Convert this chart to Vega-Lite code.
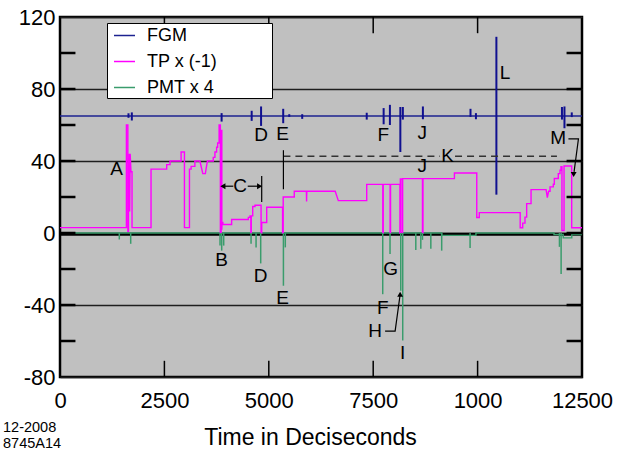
{
  "$schema": "https://vega.github.io/schema/vega-lite/v6.json",
  "width": 522,
  "height": 360,
  "autosize": {"type": "none"},
  "padding": {"left": 60, "top": 17, "right": 38, "bottom": 76},
  "config": {
    "font": "Liberation Sans",
    "view": {"fill": "#c0c0c0", "stroke": "#000", "strokeWidth": 2.5}
  },
  "title": {
    "text": ["12-2008", "8745A14"],
    "orient": "bottom",
    "anchor": "start",
    "frame": "group",
    "fontSize": 14.5,
    "fontWeight": "normal",
    "color": "#000",
    "lineHeight": 16,
    "dx": -57,
    "offset": -28
  },
  "datasets": {
    "series": [
      {"s": "FGM", "i": 0, "x": 0, "y": 65},
      {"s": "FGM", "i": 1, "x": 12500, "y": 65},
      {"s": "PMT x 4", "i": 0, "x": 0, "y": 0},
      {"s": "PMT x 4", "i": 1, "x": 9140, "y": 0},
      {"s": "PMT x 4", "i": 2, "x": 9140, "y": -1.3},
      {"s": "PMT x 4", "i": 3, "x": 9960, "y": -1.3},
      {"s": "PMT x 4", "i": 4, "x": 9960, "y": 0},
      {"s": "PMT x 4", "i": 5, "x": 11830, "y": 0},
      {"s": "PMT x 4", "i": 6, "x": 11830, "y": -0.8},
      {"s": "PMT x 4", "i": 7, "x": 12050, "y": -0.8},
      {"s": "PMT x 4", "i": 8, "x": 12050, "y": -2.7},
      {"s": "PMT x 4", "i": 9, "x": 12255, "y": -2.7},
      {"s": "PMT x 4", "i": 10, "x": 12255, "y": -0.8},
      {"s": "PMT x 4", "i": 11, "x": 12480, "y": -0.8},
      {"s": "PMT x 4", "i": 12, "x": 12480, "y": 0},
      {"s": "PMT x 4", "i": 13, "x": 12500, "y": 0},
      {"s": "TP x (-1)", "i": 1, "x": 0, "y": 3},
      {"s": "TP x (-1)", "i": 2, "x": 1590, "y": 3},
      {"s": "TP x (-1)", "i": 3, "x": 1590, "y": 60},
      {"s": "TP x (-1)", "i": 4, "x": 1625, "y": 60},
      {"s": "TP x (-1)", "i": 5, "x": 1625, "y": 1},
      {"s": "TP x (-1)", "i": 6, "x": 1640, "y": 1},
      {"s": "TP x (-1)", "i": 7, "x": 1640, "y": 25},
      {"s": "TP x (-1)", "i": 8, "x": 1650, "y": 17},
      {"s": "TP x (-1)", "i": 9, "x": 1660, "y": 44},
      {"s": "TP x (-1)", "i": 10, "x": 1668, "y": 12},
      {"s": "TP x (-1)", "i": 11, "x": 1680, "y": 44},
      {"s": "TP x (-1)", "i": 12, "x": 1700, "y": 34},
      {"s": "TP x (-1)", "i": 13, "x": 1725, "y": 34},
      {"s": "TP x (-1)", "i": 14, "x": 1725, "y": 3},
      {"s": "TP x (-1)", "i": 15, "x": 2180, "y": 3},
      {"s": "TP x (-1)", "i": 16, "x": 2180, "y": 35.5},
      {"s": "TP x (-1)", "i": 17, "x": 2555, "y": 35.5},
      {"s": "TP x (-1)", "i": 18, "x": 2555, "y": 38},
      {"s": "TP x (-1)", "i": 19, "x": 2635, "y": 38},
      {"s": "TP x (-1)", "i": 20, "x": 2635, "y": 40},
      {"s": "TP x (-1)", "i": 21, "x": 2900, "y": 40},
      {"s": "TP x (-1)", "i": 22, "x": 2900, "y": 45},
      {"s": "TP x (-1)", "i": 23, "x": 2980, "y": 45},
      {"s": "TP x (-1)", "i": 24, "x": 2980, "y": 3},
      {"s": "TP x (-1)", "i": 25, "x": 3100, "y": 3},
      {"s": "TP x (-1)", "i": 26, "x": 3100, "y": 35.5},
      {"s": "TP x (-1)", "i": 27, "x": 3140, "y": 35.5},
      {"s": "TP x (-1)", "i": 28, "x": 3140, "y": 37},
      {"s": "TP x (-1)", "i": 29, "x": 3230, "y": 37},
      {"s": "TP x (-1)", "i": 30, "x": 3230, "y": 40},
      {"s": "TP x (-1)", "i": 31, "x": 3350, "y": 40},
      {"s": "TP x (-1)", "i": 32, "x": 3420, "y": 33},
      {"s": "TP x (-1)", "i": 33, "x": 3480, "y": 33},
      {"s": "TP x (-1)", "i": 34, "x": 3530, "y": 40},
      {"s": "TP x (-1)", "i": 35, "x": 3670, "y": 40},
      {"s": "TP x (-1)", "i": 36, "x": 3670, "y": 42},
      {"s": "TP x (-1)", "i": 37, "x": 3710, "y": 42},
      {"s": "TP x (-1)", "i": 38, "x": 3710, "y": 45},
      {"s": "TP x (-1)", "i": 39, "x": 3750, "y": 45},
      {"s": "TP x (-1)", "i": 40, "x": 3750, "y": 47.6},
      {"s": "TP x (-1)", "i": 41, "x": 3775, "y": 47.6},
      {"s": "TP x (-1)", "i": 42, "x": 3775, "y": 50},
      {"s": "TP x (-1)", "i": 43, "x": 3810, "y": 50},
      {"s": "TP x (-1)", "i": 44, "x": 3810, "y": 60},
      {"s": "TP x (-1)", "i": 45, "x": 3840, "y": 60},
      {"s": "TP x (-1)", "i": 46, "x": 3840, "y": 0},
      {"s": "TP x (-1)", "i": 47, "x": 3860, "y": 0},
      {"s": "TP x (-1)", "i": 48, "x": 3860, "y": 57},
      {"s": "TP x (-1)", "i": 49, "x": 3875, "y": 57},
      {"s": "TP x (-1)", "i": 50, "x": 3875, "y": 1.8},
      {"s": "TP x (-1)", "i": 51, "x": 3880, "y": 5.8},
      {"s": "TP x (-1)", "i": 52, "x": 3900, "y": 5.8},
      {"s": "TP x (-1)", "i": 53, "x": 3900, "y": 4.7},
      {"s": "TP x (-1)", "i": 54, "x": 4110, "y": 4.7},
      {"s": "TP x (-1)", "i": 55, "x": 4110, "y": 7.5},
      {"s": "TP x (-1)", "i": 56, "x": 4510, "y": 7.5},
      {"s": "TP x (-1)", "i": 57, "x": 4510, "y": 8.7},
      {"s": "TP x (-1)", "i": 58, "x": 4550, "y": 8.7},
      {"s": "TP x (-1)", "i": 59, "x": 4550, "y": 9.5},
      {"s": "TP x (-1)", "i": 60, "x": 4570, "y": 9.5},
      {"s": "TP x (-1)", "i": 61, "x": 4570, "y": 0},
      {"s": "TP x (-1)", "i": 62, "x": 4580, "y": 0},
      {"s": "TP x (-1)", "i": 63, "x": 4580, "y": 9.5},
      {"s": "TP x (-1)", "i": 64, "x": 4615, "y": 9.5},
      {"s": "TP x (-1)", "i": 65, "x": 4615, "y": 14.7},
      {"s": "TP x (-1)", "i": 66, "x": 4670, "y": 14.7},
      {"s": "TP x (-1)", "i": 67, "x": 4670, "y": 15.4},
      {"s": "TP x (-1)", "i": 68, "x": 4815, "y": 15.4},
      {"s": "TP x (-1)", "i": 69, "x": 4815, "y": 0},
      {"s": "TP x (-1)", "i": 70, "x": 4830, "y": 0},
      {"s": "TP x (-1)", "i": 71, "x": 4830, "y": 5.8},
      {"s": "TP x (-1)", "i": 72, "x": 4950, "y": 5.8},
      {"s": "TP x (-1)", "i": 73, "x": 4950, "y": 14.3},
      {"s": "TP x (-1)", "i": 74, "x": 5330, "y": 14.3},
      {"s": "TP x (-1)", "i": 75, "x": 5330, "y": 0},
      {"s": "TP x (-1)", "i": 76, "x": 5345, "y": 0},
      {"s": "TP x (-1)", "i": 77, "x": 5345, "y": 20},
      {"s": "TP x (-1)", "i": 78, "x": 5610, "y": 20},
      {"s": "TP x (-1)", "i": 79, "x": 5610, "y": 23.2},
      {"s": "TP x (-1)", "i": 80, "x": 5900, "y": 23.2},
      {"s": "TP x (-1)", "i": 81, "x": 5905, "y": 17.5},
      {"s": "TP x (-1)", "i": 82, "x": 5910, "y": 23.2},
      {"s": "TP x (-1)", "i": 83, "x": 6590, "y": 23.2},
      {"s": "TP x (-1)", "i": 84, "x": 6665, "y": 18},
      {"s": "TP x (-1)", "i": 85, "x": 7345, "y": 18},
      {"s": "TP x (-1)", "i": 86, "x": 7345, "y": 27},
      {"s": "TP x (-1)", "i": 87, "x": 7730, "y": 27},
      {"s": "TP x (-1)", "i": 88, "x": 7730, "y": 0},
      {"s": "TP x (-1)", "i": 89, "x": 7740, "y": 0},
      {"s": "TP x (-1)", "i": 90, "x": 7740, "y": 27},
      {"s": "TP x (-1)", "i": 91, "x": 7905, "y": 27},
      {"s": "TP x (-1)", "i": 92, "x": 7905, "y": 0},
      {"s": "TP x (-1)", "i": 93, "x": 7915, "y": 0},
      {"s": "TP x (-1)", "i": 94, "x": 7915, "y": 27},
      {"s": "TP x (-1)", "i": 95, "x": 8140, "y": 27},
      {"s": "TP x (-1)", "i": 96, "x": 8140, "y": 0},
      {"s": "TP x (-1)", "i": 97, "x": 8150, "y": 0},
      {"s": "TP x (-1)", "i": 98, "x": 8150, "y": 30},
      {"s": "TP x (-1)", "i": 99, "x": 8190, "y": 30},
      {"s": "TP x (-1)", "i": 100, "x": 8190, "y": 0},
      {"s": "TP x (-1)", "i": 101, "x": 8205, "y": 0},
      {"s": "TP x (-1)", "i": 102, "x": 8205, "y": 30.2},
      {"s": "TP x (-1)", "i": 103, "x": 8680, "y": 30.2},
      {"s": "TP x (-1)", "i": 104, "x": 8680, "y": 0},
      {"s": "TP x (-1)", "i": 105, "x": 8692, "y": 0},
      {"s": "TP x (-1)", "i": 106, "x": 8692, "y": 30.2},
      {"s": "TP x (-1)", "i": 107, "x": 9445, "y": 30.2},
      {"s": "TP x (-1)", "i": 108, "x": 9445, "y": 33.3},
      {"s": "TP x (-1)", "i": 109, "x": 9980, "y": 33.3},
      {"s": "TP x (-1)", "i": 110, "x": 9980, "y": 8.6},
      {"s": "TP x (-1)", "i": 111, "x": 10040, "y": 8.6},
      {"s": "TP x (-1)", "i": 112, "x": 10040, "y": 11.3},
      {"s": "TP x (-1)", "i": 113, "x": 11020, "y": 11.3},
      {"s": "TP x (-1)", "i": 114, "x": 11020, "y": 2.9},
      {"s": "TP x (-1)", "i": 115, "x": 11080, "y": 2.9},
      {"s": "TP x (-1)", "i": 116, "x": 11080, "y": 5.5},
      {"s": "TP x (-1)", "i": 117, "x": 11135, "y": 5.5},
      {"s": "TP x (-1)", "i": 118, "x": 11135, "y": 8.8},
      {"s": "TP x (-1)", "i": 119, "x": 11175, "y": 8.8},
      {"s": "TP x (-1)", "i": 120, "x": 11175, "y": 16.3},
      {"s": "TP x (-1)", "i": 121, "x": 11280, "y": 16.3},
      {"s": "TP x (-1)", "i": 122, "x": 11280, "y": 24.1},
      {"s": "TP x (-1)", "i": 123, "x": 11640, "y": 24.1},
      {"s": "TP x (-1)", "i": 124, "x": 11670, "y": 19.7},
      {"s": "TP x (-1)", "i": 125, "x": 11700, "y": 23.2},
      {"s": "TP x (-1)", "i": 126, "x": 11735, "y": 23.2},
      {"s": "TP x (-1)", "i": 127, "x": 11735, "y": 25.6},
      {"s": "TP x (-1)", "i": 128, "x": 11813, "y": 25.6},
      {"s": "TP x (-1)", "i": 129, "x": 11813, "y": 27.1},
      {"s": "TP x (-1)", "i": 130, "x": 11837, "y": 27.1},
      {"s": "TP x (-1)", "i": 131, "x": 11837, "y": 30.3},
      {"s": "TP x (-1)", "i": 132, "x": 11932, "y": 30.3},
      {"s": "TP x (-1)", "i": 133, "x": 11932, "y": 33},
      {"s": "TP x (-1)", "i": 134, "x": 11973, "y": 33},
      {"s": "TP x (-1)", "i": 135, "x": 11973, "y": 34.9},
      {"s": "TP x (-1)", "i": 136, "x": 11997, "y": 34.9},
      {"s": "TP x (-1)", "i": 137, "x": 11997, "y": 36.8},
      {"s": "TP x (-1)", "i": 138, "x": 12020, "y": 36.8},
      {"s": "TP x (-1)", "i": 139, "x": 12020, "y": 1.4},
      {"s": "TP x (-1)", "i": 140, "x": 12070, "y": 1.4},
      {"s": "TP x (-1)", "i": 141, "x": 12070, "y": 37.2},
      {"s": "TP x (-1)", "i": 142, "x": 12253, "y": 37.2},
      {"s": "TP x (-1)", "i": 143, "x": 12253, "y": 2.9},
      {"s": "TP x (-1)", "i": 144, "x": 12500, "y": 2.9}
    ],
    "fgmSpikes": [
      {"x": 1640, "y": 66.5, "y2": 64},
      {"x": 1720, "y": 67, "y2": 62.5},
      {"x": 3870, "y": 66.6, "y2": 61.9},
      {"x": 4590, "y": 67.9, "y2": 62.3},
      {"x": 4815, "y": 70.3, "y2": 59.5},
      {"x": 5345, "y": 69, "y2": 61},
      {"x": 5490, "y": 66, "y2": 64.5},
      {"x": 5800, "y": 66, "y2": 63.4},
      {"x": 7345, "y": 66.8, "y2": 63},
      {"x": 7750, "y": 69.4, "y2": 60.4},
      {"x": 7900, "y": 71.2, "y2": 60},
      {"x": 8150, "y": 70, "y2": 45},
      {"x": 8210, "y": 70, "y2": 63},
      {"x": 8690, "y": 70.3, "y2": 63.2},
      {"x": 9830, "y": 69, "y2": 64.5},
      {"x": 9960, "y": 66.6, "y2": 63.2},
      {"x": 10450, "y": 109, "y2": 21.3},
      {"x": 12020, "y": 70, "y2": 63},
      {"x": 12080, "y": 70.3, "y2": 58.2},
      {"x": 12255, "y": 67, "y2": 64.4}
    ],
    "pmtSpikes": [
      {"x": 1420, "y": -3.6},
      {"x": 1693, "y": -6},
      {"x": 3832, "y": -7},
      {"x": 3872, "y": -9.8},
      {"x": 3920, "y": -7},
      {"x": 4575, "y": -6},
      {"x": 4695, "y": -8},
      {"x": 4806, "y": -16.9},
      {"x": 5350, "y": -29.3},
      {"x": 5395, "y": -8},
      {"x": 7728, "y": -34},
      {"x": 7903, "y": -11.6},
      {"x": 8160, "y": -32.1},
      {"x": 8207, "y": -59.7},
      {"x": 8520, "y": -9.4},
      {"x": 8640, "y": -8.8},
      {"x": 8680, "y": -3.8},
      {"x": 8880, "y": -8.8},
      {"x": 9140, "y": -9.8},
      {"x": 9820, "y": -8.3},
      {"x": 11960, "y": -7.7},
      {"x": 12000, "y": -22.8}
    ],
    "xticks": [{"x": 2500}, {"x": 5000}, {"x": 7500}, {"x": 10000}],
    "yticks": [{"y": -60}, {"y": -40}, {"y": -20}, {"y": 0}, {"y": 20}, {"y": 40}, {"y": 60}, {"y": 80}, {"y": 100}],
    "dashes": [
      {"x": 5350, "x2": 9100, "y": 42.7},
      {"x": 9460, "x2": 11900, "y": 42.7}
    ],
    "annoLines": [
      {"g": "C1", "i": 0, "x": 3880, "y": 26},
      {"g": "C1", "i": 1, "x": 4150, "y": 26},
      {"g": "C2", "i": 0, "x": 4495, "y": 26},
      {"g": "C2", "i": 1, "x": 4800, "y": 26},
      {"g": "C3", "i": 0, "x": 4830, "y": 17.2},
      {"g": "C3", "i": 1, "x": 4830, "y": 31.6},
      {"g": "E", "i": 0, "x": 5350, "y": 24.3},
      {"g": "E", "i": 1, "x": 5350, "y": 46},
      {"g": "H", "i": 0, "x": 7785, "y": -54.5},
      {"g": "H", "i": 1, "x": 8025, "y": -54.5},
      {"g": "H", "i": 2, "x": 8140, "y": -35},
      {"g": "M", "i": 0, "x": 12175, "y": 52.3},
      {"g": "M", "i": 1, "x": 12415, "y": 52.3},
      {"g": "M", "i": 2, "x": 12310, "y": 34}
    ],
    "heads": [
      {"x": 3900, "y": 26, "h": "left"},
      {"x": 4780, "y": 26, "h": "right"},
      {"x": 8145, "y": -34, "h": "up"},
      {"x": 12300, "y": 32.5, "h": "down"}
    ],
    "labels": [
      {"t": "A", "x": 1358, "y": 35.3},
      {"t": "B", "x": 3872, "y": -14.8},
      {"t": "C", "x": 4310, "y": 26},
      {"t": "D", "x": 4813, "y": 54.5},
      {"t": "D", "x": 4806, "y": -23.7},
      {"t": "E", "x": 5333, "y": 55},
      {"t": "E", "x": 5333, "y": -35.9},
      {"t": "F", "x": 7742, "y": 54.5},
      {"t": "F", "x": 7728, "y": -41.5},
      {"t": "G", "x": 7919, "y": -20},
      {"t": "H", "x": 7543, "y": -54.5},
      {"t": "I", "x": 8206, "y": -66.6},
      {"t": "J", "x": 8676, "y": 55.8},
      {"t": "J", "x": 8676, "y": 37.2},
      {"t": "K", "x": 9284, "y": 42.7},
      {"t": "L", "x": 10656, "y": 89},
      {"t": "M", "x": 11932, "y": 52.6}
    ]
  },
  "layer": [
    {
      "data": {"name": "yticks"},
      "mark": {"type": "rule", "color": "#000", "strokeWidth": 3},
      "transform": [{"filter": "datum.y == 0"}],
      "encoding": {
        "y": {"field": "y", "type": "quantitative", "scale": {"domain": [-80, 120], "nice": false, "zero": false}},
        "x": {"datum": 0, "type": "quantitative", "scale": {"domain": [0, 12500], "nice": false, "zero": false}},
        "x2": {"datum": 12500},
        "yOffset": {"value": 1.3}
      }
    },
    {
      "data": {"name": "series"},
      "mark": {"type": "line", "strokeWidth": 1.4},
      "encoding": {
        "x": {
          "field": "x", "type": "quantitative",
          "scale": {"domain": [0, 12500], "nice": false, "zero": false},
          "axis": {
            "values": [0, 2500, 5000, 7500, 10000, 12500],
            "labelExpr": "datum.value == 10000 ? '1000' : '' + datum.value",
            "labelFontSize": 22, "labelColor": "#000", "labelPadding": 13,
            "labelFlush": false, "ticks": false, "domain": false, "grid": false,
            "title": "Time in Deciseconds", "titleFontSize": 23, "titleFontWeight": "normal",
            "titleColor": "#000", "titlePadding": 15, "titleX": 250
          }
        },
        "y": {
          "field": "y", "type": "quantitative",
          "scale": {"domain": [-80, 120], "nice": false, "zero": false},
          "axis": {
            "values": [-80, -60, -40, -20, 0, 20, 40, 60, 80, 100, 120],
            "labelExpr": "datum.value % 40 == 0 ? '' + datum.value : ''",
            "labelFontSize": 22, "labelColor": "#000", "labelPadding": 5,
            "labelFlush": false, "ticks": false, "domain": false,
            "grid": true, "gridColor": "#1e1e1e", "gridWidth": 1.5, "gridOpacity": 1,
            "title": null
          }
        },
        "order": {"field": "i", "type": "quantitative"},
        "color": {
          "field": "s", "type": "nominal",
          "scale": {"domain": ["FGM", "TP x (-1)", "PMT x 4"], "range": ["#1c2290", "#ff00ff", "#3a9c6c"]},
          "legend": {
            "orient": "none", "legendX": 47, "legendY": 6,
            "title": ".", "titleOrient": "right", "titlePadding": 48, "titleOpacity": 0, "titleFontSize": 18,
            "fillColor": "#ffffff", "strokeColor": "#000", "padding": 1,
            "labelFontSize": 18, "labelColor": "#000", "labelOffset": 11,
            "symbolType": "stroke", "symbolSize": 441, "symbolStrokeWidth": 1.5,
            "symbolOffset": 5, "rowPadding": 5
          }
        }
      }
    },
    {
      "data": {"name": "fgmSpikes"},
      "mark": {"type": "rule", "color": "#101090", "strokeWidth": 2},
      "encoding": {
        "x": {"field": "x", "type": "quantitative"},
        "y": {"field": "y", "type": "quantitative"},
        "y2": {"field": "y2"}
      }
    },
    {
      "data": {"name": "pmtSpikes"},
      "mark": {"type": "rule", "color": "#3a9c6c", "strokeWidth": 1.5},
      "encoding": {
        "x": {"field": "x", "type": "quantitative"},
        "y": {"field": "y", "type": "quantitative"},
        "y2": {"datum": 0}
      }
    },
    {
      "data": {"name": "xticks"},
      "mark": {"type": "rule", "color": "#000", "strokeWidth": 1.5},
      "encoding": {
        "x": {"field": "x", "type": "quantitative"},
        "y": {"datum": -80, "type": "quantitative"},
        "y2": {"datum": -71}
      }
    },
    {
      "data": {"name": "xticks"},
      "mark": {"type": "rule", "color": "#000", "strokeWidth": 1.5},
      "encoding": {
        "x": {"field": "x", "type": "quantitative"},
        "y": {"datum": 120, "type": "quantitative"},
        "y2": {"datum": 111}
      }
    },
    {
      "data": {"name": "yticks"},
      "mark": {"type": "rule", "color": "#000", "strokeWidth": 2.5},
      "encoding": {
        "y": {"field": "y", "type": "quantitative"},
        "x": {"datum": 0, "type": "quantitative"},
        "x2": {"datum": 370}
      }
    },
    {
      "data": {"name": "yticks"},
      "mark": {"type": "rule", "color": "#000", "strokeWidth": 2.5},
      "encoding": {
        "y": {"field": "y", "type": "quantitative"},
        "x": {"datum": 12130, "type": "quantitative"},
        "x2": {"datum": 12500}
      }
    },
    {
      "data": {"name": "dashes"},
      "mark": {"type": "rule", "color": "#333", "strokeWidth": 1.5, "strokeDash": [7, 5]},
      "encoding": {
        "x": {"field": "x", "type": "quantitative"},
        "x2": {"field": "x2"},
        "y": {"field": "y", "type": "quantitative"}
      }
    },
    {
      "data": {"name": "annoLines"},
      "mark": {"type": "line", "color": "#000", "strokeWidth": 1.2},
      "encoding": {
        "x": {"field": "x", "type": "quantitative"},
        "y": {"field": "y", "type": "quantitative"},
        "detail": {"field": "g"},
        "order": {"field": "i", "type": "quantitative"}
      }
    },
    {
      "data": {"name": "heads"},
      "mark": {"type": "point", "filled": true, "color": "#000", "size": 35, "opacity": 1},
      "encoding": {
        "x": {"field": "x", "type": "quantitative"},
        "y": {"field": "y", "type": "quantitative"},
        "shape": {
          "field": "h", "type": "nominal", "legend": null,
          "scale": {"domain": ["left", "right", "up", "down"], "range": ["triangle-left", "triangle-right", "triangle-up", "triangle-down"]}
        }
      }
    },
    {
      "data": {"name": "labels"},
      "mark": {"type": "text", "fontSize": 19, "color": "#000", "align": "center", "baseline": "middle"},
      "encoding": {
        "x": {"field": "x", "type": "quantitative"},
        "y": {"field": "y", "type": "quantitative"},
        "text": {"field": "t"}
      }
    }
  ]
}
